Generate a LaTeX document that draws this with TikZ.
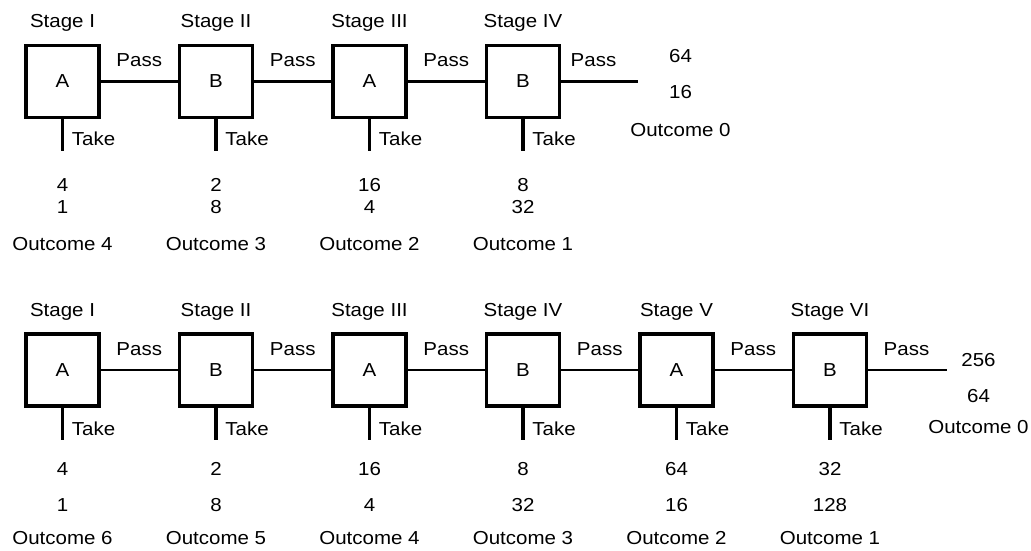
\documentclass[tikz,border=0pt]{standalone}
\usepackage{fontspec}
\setmainfont{Liberation Sans}[FakeStretch=1.09]
\usetikzlibrary{calc,positioning}

\begin{document}
\begin{tikzpicture}[node distance=5mm and 1.61cm]

\tikzset{stagebox/.style={draw,line width=1.9pt,minimum width=1.46cm,minimum height=1.44cm,inner sep=0pt,outer sep=0pt,font=\fontsize{10.7}{12}\selectfont},
txt/.style={font=\fontsize{10.7}{12}\selectfont,inner sep=0pt,anchor=base},
passline/.style={line width=1.3pt},
takeline/.style={line width=1.9pt}}

\useasboundingbox (0,0) rectangle (20.62,-11);

% Top game: four stages
\node (a1) [stagebox] at (1.25,-1.63) {A};
\node (a2) [right=of a1,stagebox] {B};
\node (a3) [right=of a2,stagebox] {A};
\node (a4) [right=of a3,stagebox] {B};

\foreach \n/\s in {1/I,2/II,3/III,4/IV} \node[txt] (sa\n) at ($(a\n)+(0,1.09)$) {Stage \s};

% Pass edges
\foreach \i/\j in {1/2,2/3,3/4} \draw[passline] (a\i) -- (a\j) node[txt,midway,yshift=0.3cm] (pa\i) {Pass};
\coordinate (ea) at ($(a4.east)+(1.56,0)$);
\draw[passline] (a4) -- (ea) node[txt,midway,xshift=-0.1cm,yshift=0.3cm] (pa4) {Pass};

% Take edges and payoffs
\foreach \n/\p/\q/\o in {1/4/1/4,2/2/8/3,3/16/4/2,4/8/32/1} {
  \coordinate (ta\n) at ($(a\n.south)+(0,-0.66)$);
  \draw[takeline] (a\n) -- (ta\n);
  \node[txt,anchor=base west] (ka\n) at ($(ta\n)+(0.18,0.1)$) {Take};
  \node[txt] (pa\n) at ($(a\n)+(0,-2.2)$) {\p};
  \node[txt] (qa\n) at ($(a\n)+(0,-2.64)$) {\q};
  \node[txt] (oa\n) at ($(a\n)+(0,-3.37)$) {Outcome \o};
}
\node[txt] (pa0) at ($(ea)+(0.86,0.38)$) {64};
\node[txt] (qa0) at ($(ea)+(0.86,-0.34)$) {16};
\node[txt] (oa0) at ($(ea)+(0.86,-1.1)$) {Outcome 0};

% Bottom game: six stages
\node (b1) [stagebox] at (1.25,-7.40) {A};
\node (b2) [right=of b1,stagebox] {B};
\node (b3) [right=of b2,stagebox] {A};
\node (b4) [right=of b3,stagebox] {B};
\node (b5) [right=of b4,stagebox] {A};
\node (b6) [right=of b5,stagebox] {B};

\foreach \n/\s in {1/I,2/II,3/III,4/IV,5/V,6/VI} \node[txt] (sb\n) at ($(b\n)+(0,1.08)$) {Stage \s};

% Pass edges
\foreach \i/\j in {1/2,2/3,3/4,4/5,5/6} \draw[passline] (b\i) -- (b\j) node[txt,midway,yshift=0.3cm] (pb\i) {Pass};
\coordinate (eb) at ($(b6.east)+(1.6,0)$);
\draw[passline] (b6) -- (eb) node[txt,midway,yshift=0.3cm] (pb6) {Pass};

% Take edges and payoffs
\foreach \n/\p/\q/\o in {1/4/1/6,2/2/8/5,3/16/4/4,4/8/32/3,5/64/16/2,6/32/128/1} {
  \coordinate (tb\n) at ($(b\n.south)+(0,-0.68)$);
  \draw[takeline] (b\n) -- (tb\n);
  \node[txt,anchor=base west] (kb\n) at ($(tb\n)+(0.18,0.1)$) {Take};
  \node[txt] (pb\n) at ($(b\n)+(0,-2.1)$) {\p};
  \node[txt] (qb\n) at ($(b\n)+(0,-2.82)$) {\q};
  \node[txt] (ob\n) at ($(b\n)+(0,-3.48)$) {Outcome \o};
}
\node[txt] (pb0) at ($(eb)+(0.64,0.08)$) {256};
\node[txt] (qb0) at ($(eb)+(0.64,-0.64)$) {64};
\node[txt] (ob0) at ($(eb)+(0.64,-1.26)$) {Outcome 0};

\end{tikzpicture}
\end{document}
